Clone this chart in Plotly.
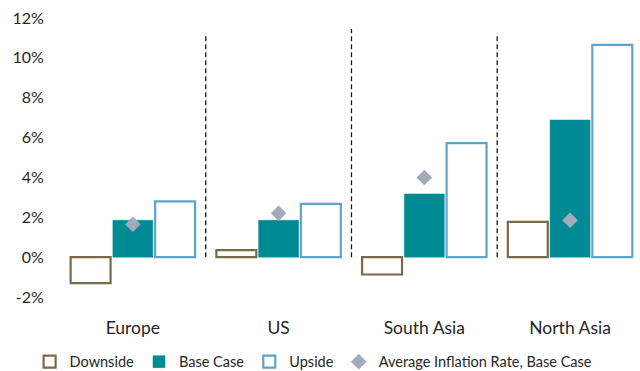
import plotly.graph_objects as go

# Regional scenarios
regions = ["Europe", "US", "South Asia", "North Asia"]
downside = [-1.3, 0.35, -0.87, 1.77]
base_case = [1.85, 1.85, 3.17, 6.88]
upside = [2.8, 2.67, 5.72, 10.65]
avg_inflation = [1.65, 2.2, 4.0, 1.85]

# Vertical separators between regions (top of dashed line, in %)
separator_tops = [11.2, 11.45, 11.2]

y_ticks = [-2, 0, 2, 4, 6, 8, 10, 12]
y_tick_text = [f"{v}%" for v in y_ticks]

FONT = "Lato, 'Open Sans', sans-serif"
TEXT = "#262626"

fig = go.Figure()
fig.add_trace(go.Bar(
    name="Downside", x=regions, y=downside,
    marker=dict(color="white", line=dict(color="#7A6A4A", width=2.2)),
))
fig.add_trace(go.Bar(
    name="Base Case", x=regions, y=base_case,
    marker=dict(color="#008B94", line=dict(color="#008B94", width=0.5)),
))
fig.add_trace(go.Bar(
    name="Upside", x=regions, y=upside,
    marker=dict(color="white", line=dict(color="#5DA4CA", width=2.2)),
))
fig.add_trace(go.Scatter(
    name="Average Inflation Rate, Base Case", x=regions, y=avg_inflation,
    mode="markers",
    marker=dict(symbol="diamond", size=12, color="#A2ABBA"),
))

for i, top in enumerate(separator_tops):
    fig.add_shape(
        type="line", xref="x", yref="y",
        x0=i + 0.5, x1=i + 0.5, y0=0, y1=top,
        line=dict(color="#1a1a1a", width=1.3, dash="5px,3px"),
    )

fig.update_layout(
    width=640, height=371,
    margin=dict(l=60, r=0, t=18, b=74),
    paper_bgcolor="white", plot_bgcolor="white",
    barmode="group", bargap=0.13, bargroupgap=0.055,
    font=dict(family=FONT, size=15, color=TEXT),
    showlegend=True,
    legend=dict(
        orientation="h", xref="container", x=0.49, xanchor="center",
        yref="container", y=0.025, yanchor="middle",
        font=dict(size=14.5, color=TEXT),
        itemwidth=30, tracegroupgap=0,
    ),
    xaxis=dict(
        range=[-0.5, 3.48], showgrid=False, showline=False, zeroline=False,
        ticks="outside", ticklen=15, tickcolor="rgba(0,0,0,0)",
        tickfont=dict(size=17.5, color=TEXT),
    ),
    yaxis=dict(
        range=[-2, 12], tickvals=y_ticks, ticktext=y_tick_text,
        showgrid=False, showline=False, zeroline=False,
        ticks="outside", ticklen=12, tickcolor="rgba(0,0,0,0)",
        tickfont=dict(size=16, color=TEXT),
    ),
)

fig.write_html("out.html")
